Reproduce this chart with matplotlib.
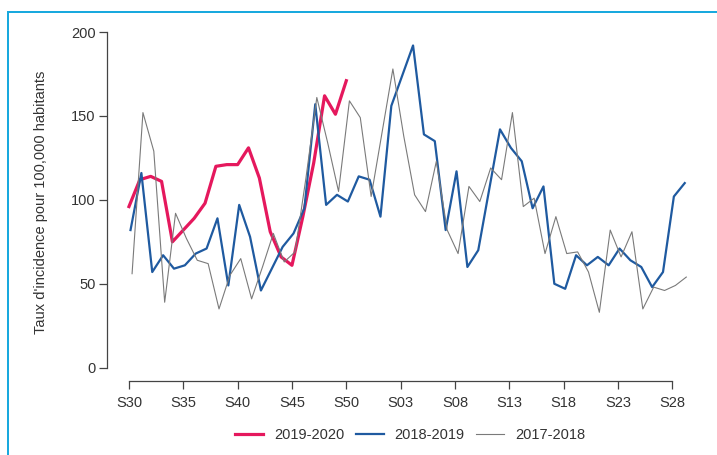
import datetime as dt

import matplotlib.pyplot as plt
from matplotlib.lines import Line2D
from matplotlib.patches import Rectangle

# weekly incidence per 100,000, seasons start at week 30
weeks = ["S30", "S35", "S40", "S45", "S50", "S03", "S08", "S13", "S18", "S23", "S28"]
tick_pos = [0, 5, 10, 15, 20, 25, 30, 35, 40, 45, 50]

s2019 = [96, 112, 114, 111, 75, 82, 89, 98, 120, 121, 121, 131, 113, 81, 66, 61,
         90, 122, 162, 151, 171]
s2018 = [82, 116, 57, 67, 59, 61, 68, 71, 89, 49, 97, 78, 46, 59, 72, 80, 95, 157,
         97, 103, 99, 114, 112, 90, 156, 174, 192, 139, 135, 82, 117, 60, 70, 106,
         142, 131, 123, 95, 108, 50, 47, 67, 61, 66, 61, 71, 64, 60, 48, 57, 102, 110]
s2017 = [56, 152, 129, 39, 92, 77, 64, 62, 35, 55, 65, 41, 60, 80, 63, 69, 113, 161,
         134, 105, 159, 149, 102, 140, 178, 138, 103, 93, 123, 82, 68, 108, 99, 119,
         112, 152, 96, 101, 68, 90, 68, 69, 57, 33, 82, 66, 81, 35, 48, 46, 49, 54]

seasons = [
    ("2019-2020", 2019, s2019, "#e5185d", 2.3),
    ("2018-2019", 2018, s2018, "#1f5aa0", 1.6),
    ("2017-2018", 2017, s2017, "#7a7a7a", 0.8),
]

TXT = "#333333"
plt.rcParams["font.family"] = ["Liberation Sans", "DejaVu Sans"]
plt.rcParams["font.size"] = 10.5

W, H = 717, 455
fig = plt.figure(figsize=(W / 100, H / 100), dpi=100)
ax = fig.add_axes([0.1488, 0.1624, 0.8395, 0.7967])

# dates are placed on the 2019-2020 calendar, so older seasons shift by a day or two
ref_start = dt.date.fromisocalendar(2019, 30, 1)
handles = []
for label, year, vals, color, lw in seasons:
    start = dt.date.fromisocalendar(year, 30, 1)
    shift = (dt.date(2019, start.month, start.day) - ref_start).days / 7
    x = [i + shift for i in range(len(vals))]
    ax.plot(x, vals, color=color, lw=lw, solid_joinstyle="round")
    handles.append(Line2D([], [], color=color, lw=lw, label=label))

ax.set_xlim(-2.05, 53.34)
ax.set_ylim(-8, 208)

for side in ["top", "right"]:
    ax.spines[side].set_visible(False)
ax.spines["left"].set_bounds(0, 200)
ax.spines["bottom"].set_bounds(0, 50)
for side in ["left", "bottom"]:
    ax.spines[side].set_color("#444444")
    ax.spines[side].set_linewidth(0.9)

ax.set_yticks([0, 50, 100, 150, 200])
ax.set_xticks(tick_pos)
ax.set_xticklabels(weeks)
ax.tick_params(axis="both", colors="#444444", labelcolor=TXT, length=5.5, width=0.9)
ax.tick_params(axis="y", pad=2.5)
ax.tick_params(axis="x", pad=5)

fig.text(41 / W, 0.555, "Taux d'incidence pour 100,000 habitants", rotation=90,
         ha="center", va="center", color=TXT)

fig.legend(handles=handles, loc="center", bbox_to_anchor=(0.572, 0.044), ncol=3,
           frameon=False, handlelength=1.9, handletextpad=0.75, columnspacing=0.8,
           labelcolor=TXT)


# cyan frame on the left and top, drawn as thin filled strips (in pixels from top-left)
def strip(x0, y0, w, h):
    fig.add_artist(Rectangle((x0 / W, 1 - (y0 + h) / H), w / W, h / H,
                             transform=fig.transFigure, facecolor="#19a9de", lw=0))


strip(7, 11, 2, H - 11)
strip(7, 11, W - 7, 1.5)
strip(7, 11, 15, 2)
strip(711, 11, 6, 2)

fig.savefig("out.png", dpi=100)
